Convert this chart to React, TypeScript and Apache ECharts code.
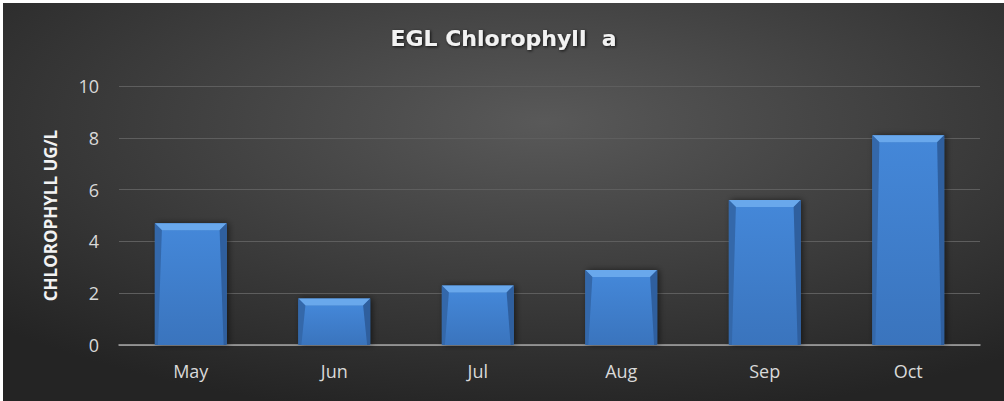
import React, { useEffect, useRef } from "react";
import * as echarts from "echarts";

const categories = ["May", "Jun", "Jul", "Aug", "Sep", "Oct"];
const values = [4.7, 1.8, 2.3, 2.9, 5.6, 8.1];
const yTicks = { min: 0, max: 10, interval: 2 };
const titleText = "EGL Chlorophyll  a";
const yAxisName = "CHLOROPHYLL UG/L";

export default function App() {
  const ref = useRef<HTMLDivElement>(null);
  useEffect(() => {
    document.body.style.margin = "0";
    const chart = echarts.init(ref.current!, null, { renderer: "svg" });
    const bevel = 7;
    chart.setOption({
      animation: false,
      backgroundColor: {
        type: "radial",
        x: 0.54,
        y: 0.3,
        r: 0.75,
        colorStops: [
          { offset: 0, color: "#595959" },
          { offset: 1, color: "#242424" },
        ],
      },
      title: {
        text: titleText,
        left: "center",
        top: 19,
        textStyle: {
          color: "#f2f2f2",
          fontFamily: "DejaVu Sans",
          fontWeight: "bold",
          fontSize: 22,
          textShadowColor: "rgba(0,0,0,0.8)",
          textShadowBlur: 3,
          textShadowOffsetX: 1,
          textShadowOffsetY: 1,
        },
      },
      grid: { left: 116, right: 24, top: 83, bottom: 56, containLabel: false },
      xAxis: {
        type: "category",
        data: categories,
        axisTick: { show: false },
        axisLine: { lineStyle: { color: "#a6a6a6", width: 1.5 } },
        axisLabel: {
          color: "#d9d9d9",
          fontFamily: "Open Sans",
          fontSize: 18,
          margin: 17,
        },
      },
      yAxis: {
        type: "value",
        min: yTicks.min,
        max: yTicks.max,
        interval: yTicks.interval,
        name: yAxisName,
        nameLocation: "middle",
        nameGap: 60,
        nameTextStyle: {
          color: "#f2f2f2",
          fontFamily: "Open Sans",
          fontWeight: "bold",
          fontSize: 17,
        },
        axisLine: { show: false },
        axisTick: { show: false },
        splitLine: { lineStyle: { color: "#5e5e5e", width: 1 } },
        axisLabel: {
          color: "#d9d9d9",
          fontFamily: "Open Sans",
          fontSize: 18,
          margin: 20,
        },
      },
      series: [
        {
          type: "custom",
          data: values.map((v, i) => [i, v]),
          encode: { x: 0, y: 1 },
          renderItem: (params: any, api: any) => {
            const idx = api.value(0);
            const val = api.value(1);
            const top = api.coord([idx, val]);
            const base = api.coord([idx, 0]);
            const w = api.size([1, 0])[0] * 0.5;
            const x0 = top[0] - w / 2;
            const x1 = top[0] + w / 2;
            const y0 = top[1];
            const y1 = base[1];
            const b = Math.min(bevel, (y1 - y0) / 2);
            return {
              type: "group",
              children: [
                {
                  type: "rect",
                  shape: { x: x0, y: y0, width: w, height: y1 - y0 },
                  style: {
                    fill: "#3c78c2",
                    shadowColor: "rgba(0,0,0,0.55)",
                    shadowBlur: 6,
                    shadowOffsetX: 2,
                    shadowOffsetY: 0,
                  },
                },
                {
                  type: "rect",
                  shape: { x: x0 + 3, y: y0 + b, width: w - 6, height: y1 - y0 - b },
                  style: {
                    fill: {
                      type: "linear",
                      x: 0,
                      y: 0,
                      x2: 0,
                      y2: 1,
                      colorStops: [
                        { offset: 0, color: "#4487d8" },
                        { offset: 1, color: "#3a74bd" },
                      ],
                    },
                  },
                },
                {
                  type: "polygon",
                  shape: {
                    points: [
                      [x0, y0],
                      [x1, y0],
                      [x1 - b, y0 + b],
                      [x0 + b, y0 + b],
                    ],
                  },
                  style: { fill: "#69a8ec" },
                },
                {
                  type: "polygon",
                  shape: {
                    points: [
                      [x0, y0],
                      [x0 + b, y0 + b],
                      [x0 + 3, y1],
                      [x0, y1],
                    ],
                  },
                  style: { fill: "#3468aa" },
                },
                {
                  type: "polygon",
                  shape: {
                    points: [
                      [x1, y0],
                      [x1 - b, y0 + b],
                      [x1 - 3, y1],
                      [x1, y1],
                    ],
                  },
                  style: { fill: "#2f5f9e" },
                },
              ],
            };
          },
        },
      ],
    });
    return () => chart.dispose();
  }, []);
  return (
    <div style={{ width: 1004, height: 401, background: "#ffffff", position: "relative" }}>
      <div
        ref={ref}
        style={{ position: "absolute", left: 3, top: 3, width: 1001, height: 398 }}
      />
    </div>
  );
}
